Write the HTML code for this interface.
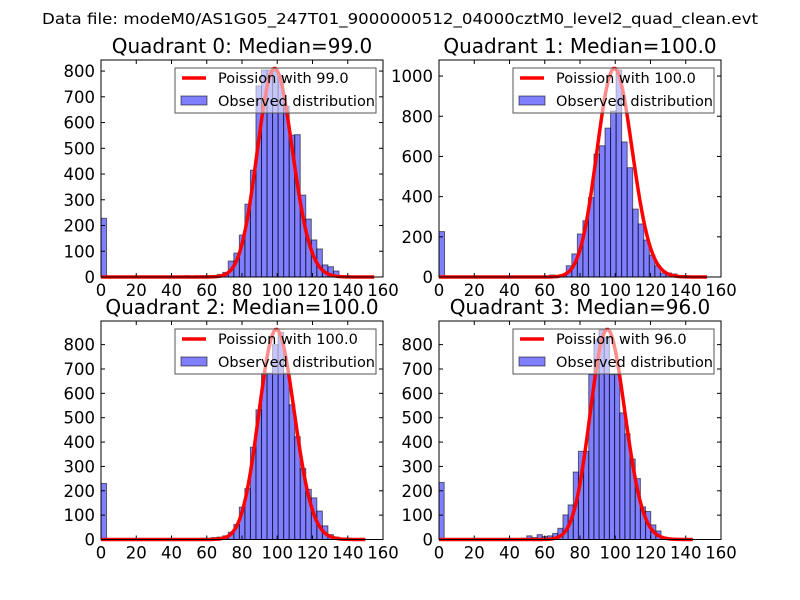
<!DOCTYPE html>
<html><head><meta charset="utf-8"><style>
html,body{margin:0;padding:0;background:#fff;}
svg{display:block;font-family:"DejaVu Sans","Liberation Sans",sans-serif;}
</style></head><body>
<svg id="fig" width="800" height="600" viewBox="0 0 800 600" xmlns="http://www.w3.org/2000/svg">
<rect width="800" height="600" fill="#fff"/>
<text x="400" y="24" text-anchor="middle" font-size="15" textLength="716" lengthAdjust="spacingAndGlyphs">Data file: modeM0/AS1G05_247T01_9000000512_04000cztM0_level2_quad_clean.evt</text>
</svg>
<script>
// ---- data ----
const titles = ["Quadrant 0: Median=99.0","Quadrant 1: Median=100.0","Quadrant 2: Median=100.0","Quadrant 3: Median=96.0"];
const legendLabels = ["Poission with 99.0","Poission with 100.0","Poission with 100.0","Poission with 96.0"];
const means = [99, 100, 100, 96];
const curvePeaks = [810, 1038, 862, 862];
const curveEnds = [155, 152, 150, 144];
const binWidths = [3.14, 3.14, 3.14, 2.93];
const yMaxes = [843, 1080, 897, 897];
const yTicks0 = [0,100,200,300,400,500,600,700,800];
const yTicks1 = [0,200,400,600,800,1000];
const yTicks2 = [0,100,200,300,400,500,600,700,800];
const yTicks3 = [0,100,200,300,400,500,600,700,800];
const xTicks = [0,20,40,60,80,100,120,140,160];
const counts0 = [228,0,0,0,0,0,0,0,0,0,0,0,0,0,0,5,3,5,5,5,6,10,18,62,93,163,283,415,742,804,804,800,780,664,551,553,318,225,144,109,47,40,23,5,3,0,0,0,0,0];
const counts1 = [226,0,0,0,0,0,0,0,0,0,0,0,0,0,0,0,0,5,3,3,10,5,8,56,115,214,280,395,612,653,741,826,1030,672,544,338,264,184,109,56,20,20,15,5,5,3,0,0,0,0];
const counts2 = [230,0,0,0,0,0,0,0,0,0,0,0,0,0,0,0,0,0,5,5,8,10,15,30,62,133,210,379,532,683,683,800,850,683,553,422,292,206,171,117,56,20,10,5,0,0,0,0,0,0];
const counts3 = [234,0,0,0,0,0,0,0,0,0,0,0,0,0,0,3,5,15,8,20,12,15,25,46,101,142,277,362,362,677,820,860,830,677,677,520,434,330,250,134,115,60,35,10,3,0,0,0,0,0];
// ---- layout ----
const axesBoxes = [[101,60,383,277],[439,60,721,277],[101,321,383,539.5],[439,321,721,539.5]];
const allCounts = [counts0,counts1,counts2,counts3];
const allYTicks = [yTicks0,yTicks1,yTicks2,yTicks3];
const NS = "http://www.w3.org/2000/svg";
const svg = document.getElementById('fig');
function mk(tag, attrs, parent){ const e=document.createElementNS(NS,tag); for(const k in attrs) e.setAttribute(k,attrs[k]); (parent||svg).appendChild(e); return e; }
function lgamma(z){
  let s=0; while(z<8){ s-=Math.log(z); z+=1; }
  return s+(z-0.5)*Math.log(z)-z+0.5*Math.log(2*Math.PI)+1/(12*z)-1/(360*z*z*z);
}
function pois(k,mu){ return Math.exp(k*Math.log(mu)-mu-lgamma(k+1)); }

for(let q=0;q<4;q++){
  const [L,T,R,B]=axesBoxes[q];
  const xS=v=>L+(v/160)*(R-L);
  const yS=v=>B-(v/yMaxes[q])*(B-T);
  const g=mk('g',{});
  
  
  const t=mk('text',{x:(L+R)/2,y:T-7,'text-anchor':'middle','font-size':20},g);
  
  
  t.textContent=titles[q];
  const counts=allCounts[q], w=binWidths[q];
  for(let i=0;i<counts.length;i++){
    if(counts[i]<=0) continue;
    const x0=xS(i*w), x1=xS((i+1)*w), y0=yS(counts[i]);
    const r=mk('rect',{x:x0,y:y0,width:x1-x0,height:B-y0,fill:'rgba(0,0,255,0.5)',stroke:'rgba(0,0,0,0.55)','stroke-width':1},g);
    
    
  }
  const mu=means[q], scale=curvePeaks[q]/pois(Math.round(mu),mu);
  let d='';
  for(let k=0;k<=curveEnds[q];k++){ d+=(k?'L':'M')+xS(k).toFixed(2)+','+yS(pois(k,mu)*scale).toFixed(2); }
  const p=mk('path',{d:d,fill:'none',stroke:'#ff0000','stroke-width':3.5,'stroke-linejoin':'round'},g);
  
  
  const f=mk('rect',{x:L,y:T,width:R-L,height:B-T,fill:'none',stroke:'#000','stroke-width':1},g);
  
  
  for(const v of xTicks){
    const x=xS(v);
    mk('line',{x1:x,y1:B,x2:x,y2:B-4,stroke:'#000'},g);
    mk('line',{x1:x,y1:T,x2:x,y2:T+4,stroke:'#000'},g);
    const tl=mk('text',{x:x,y:B+19,'text-anchor':'middle','font-size':16.5},g);
    
    
    tl.textContent=v;
  }
  for(const v of allYTicks[q]){
    const y=yS(v);
    mk('line',{x1:L,y1:y,x2:L+4,y2:y,stroke:'#000'},g);
    mk('line',{x1:R,y1:y,x2:R-4,y2:y,stroke:'#000'},g);
    const tl=mk('text',{x:L-6,y:y+6,'text-anchor':'end','font-size':16.5},g);
    
    
    tl.textContent=v;
  }
  const lx=L+74, ly=T+8, lw=R-7-lx, lh=45;
  const lg=mk('g',{},g);
  
  
  mk('rect',{x:lx,y:ly,width:lw,height:lh,fill:'rgba(255,255,255,0.55)',stroke:'#555','stroke-width':1},lg);
  mk('line',{x1:lx+7,y1:ly+10,x2:lx+31,y2:ly+10,stroke:'#ff0000','stroke-width':3.5},lg);
  const t1=mk('text',{x:lx+43,y:ly+15,'font-size':14.5},lg);
  
  
  t1.textContent=legendLabels[q];
  mk('rect',{x:lx+6,y:ly+28,width:26,height:9,fill:'rgba(0,0,255,0.5)',stroke:'rgba(0,0,0,0.55)'},lg);
  const t2=mk('text',{x:lx+43,y:ly+38,'font-size':14.5},lg);
  
  
  t2.textContent='Observed distribution';
}
</script>
</body></html>
